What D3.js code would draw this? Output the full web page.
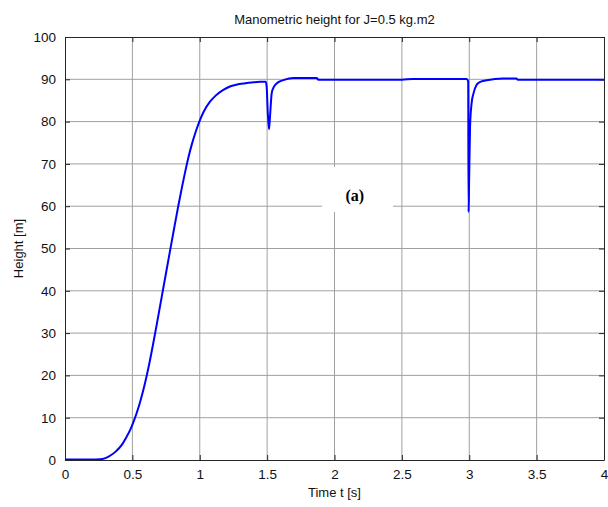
<!DOCTYPE html>
<html>
<head>
    <script src="https://d3js.org/d3.v7.min.js"></script>
    <style>
        body { margin: 0; background: #fff; }
        text { font-family: Arial, "Liberation Sans", sans-serif; }
        .grid line { stroke: #a0a0a0; stroke-width: 1; }
        .axis path, .axis line { stroke: #262626; }
        .line {
            fill: none;
            stroke: #0000ff;
            stroke-width: 2px;
        }
    </style>
</head>
<body>
    <svg width="608" height="507"></svg>
    <script>
        // time [s] and manometric height [m]
        var time = [0, 0.1, 0.2, 0.26, 0.3, 0.334, 0.38, 0.42, 0.45, 0.482, 0.507, 0.532, 0.56, 0.594,
            0.625, 0.655, 0.68, 0.71, 0.74, 0.774, 0.81, 0.841, 0.87, 0.891, 0.915, 0.94, 0.97, 0.997,
            1.03, 1.076, 1.12, 1.175, 1.224, 1.27, 1.323, 1.348, 1.40, 1.447, 1.49, 1.497, 1.505, 1.514,
            1.52, 1.534, 1.55, 1.571, 1.595, 1.62, 1.694, 1.868, 1.88, 2.5, 2.58, 2.98, 2.992, 2.995,
            2.999, 3.006, 3.018, 3.03, 3.055, 3.067, 3.09, 3.13, 3.25, 3.35, 3.36, 4];
        var height_m = [0.1, 0.1, 0.1, 0.15, 0.45, 1.0, 2.1, 3.5, 5.1, 7.0, 8.9, 11.1, 14.0, 18.2,
            22.7, 27.6, 31.9, 37.2, 42.5, 48.5, 54.8, 60.1, 64.8, 68.0, 71.4, 74.5, 77.6, 80.0,
            82.4, 84.7, 86.2, 87.5, 88.3, 88.7, 89.0, 89.1, 89.3, 89.4, 89.4, 88.0, 82, 78.2,
            80.5, 86.7, 88.2, 89.0, 89.5, 89.8, 90.3, 90.3, 89.9, 89.9, 90.1, 90.1, 89.5, 58.6,
            66, 78.8, 84.5, 86.5, 88.7, 89.1, 89.5, 89.8, 90.2, 90.2, 89.9, 89.9];

        var xTicks = [0, 0.5, 1, 1.5, 2, 2.5, 3, 3.5, 4];
        var yTicks = [0, 10, 20, 30, 40, 50, 60, 70, 80, 90, 100];

        var titleText = "Manometric height for J=0.5 kg.m2";
        var xLabel = "Time t [s]";
        var yLabel = "Height [m]";
        var tagText = "(a)";

        var svg = d3.select("svg"),
            margin = {top: 37, right: 4, bottom: 47, left: 65},
            width = +svg.attr("width") - margin.left - margin.right,
            height = +svg.attr("height") - margin.top - margin.bottom;

        var data = time.map(function(t, i) { return {t: t, h: height_m[i]}; });

        var x = d3.scaleLinear().domain([0, 4]).range([0, width]),
            y = d3.scaleLinear().domain([0, 100]).range([height, 0]);

        svg.append("defs").append("clipPath")
            .attr("id", "clip")
            .append("rect")
            .attr("width", width)
            .attr("height", height);

        var g = svg.append("g")
            .attr("transform", "translate(" + margin.left + "," + margin.top + ")");

        // grid
        var grid = g.append("g").attr("class", "grid");
        grid.selectAll(".gx")
            .data(xTicks.slice(1, -1))
            .enter().append("line")
            .attr("x1", function(d) { return x(d); })
            .attr("x2", function(d) { return x(d); })
            .attr("y1", 0).attr("y2", height);
        grid.selectAll(".gy")
            .data(yTicks.slice(1, -1))
            .enter().append("line")
            .attr("x1", 0).attr("x2", width)
            .attr("y1", function(d) { return y(d); })
            .attr("y2", function(d) { return y(d); });

        // white box behind the (a) tag
        var tagBox = {t0: 1.907, t1: 2.434, h0: 58.6, h1: 69.3};
        g.append("rect")
            .attr("x", x(tagBox.t0))
            .attr("y", y(tagBox.h1))
            .attr("width", x(tagBox.t1) - x(tagBox.t0))
            .attr("height", y(tagBox.h0) - y(tagBox.h1))
            .attr("fill", "#fff");
        g.append("text")
            .attr("x", x(2.15))
            .attr("y", y(61.3))
            .attr("text-anchor", "middle")
            .style("font-family", "'Times New Roman', 'Liberation Serif', serif")
            .style("font-weight", "bold")
            .style("font-size", "16px")
            .text(tagText);

        var line = d3.line()
            .curve(d3.curveMonotoneX)
            .x(function(d) { return x(d.t); })
            .y(function(d) { return y(d.h); });

        g.append("path")
            .datum(data)
            .attr("class", "line")
            .attr("clip-path", "url(#clip)")
            .attr("stroke-linejoin", "round")
            .attr("d", line);

        // axes with inward ticks on all four sides
        var fmt = function(d) { return d; };
        g.append("g")
            .attr("class", "axis")
            .attr("transform", "translate(0," + height + ")")
            .call(d3.axisBottom(x).tickValues(xTicks).tickFormat(fmt).tickSizeInner(-5).tickSizeOuter(0).tickPadding(9));
        g.append("g")
            .attr("class", "axis")
            .call(d3.axisTop(x).tickValues(xTicks).tickFormat("").tickSizeInner(-5).tickSizeOuter(0));
        g.append("g")
            .attr("class", "axis")
            .call(d3.axisLeft(y).tickValues(yTicks).tickFormat(fmt).tickSizeInner(-5).tickSizeOuter(0).tickPadding(9));
        g.append("g")
            .attr("class", "axis")
            .attr("transform", "translate(" + width + ",0)")
            .call(d3.axisRight(y).tickValues(yTicks).tickFormat("").tickSizeInner(-5).tickSizeOuter(0));

        g.selectAll(".axis text")
            .style("font-size", "13.5px")
            .attr("fill", "#111");

        g.append("text")
            .attr("x", width / 2)
            .attr("y", -13)
            .attr("text-anchor", "middle")
            .style("font-size", "13px")
            .attr("fill", "#111")
            .text(titleText);

        g.append("text")
            .attr("x", width / 2)
            .attr("y", height + 37)
            .attr("text-anchor", "middle")
            .style("font-size", "13px")
            .attr("fill", "#111")
            .text(xLabel);

        g.append("text")
            .attr("transform", "rotate(-90)")
            .attr("x", -height / 2)
            .attr("y", -42)
            .attr("text-anchor", "middle")
            .style("font-size", "13px")
            .attr("fill", "#111")
            .text(yLabel);
    </script>
</body>
</html>
